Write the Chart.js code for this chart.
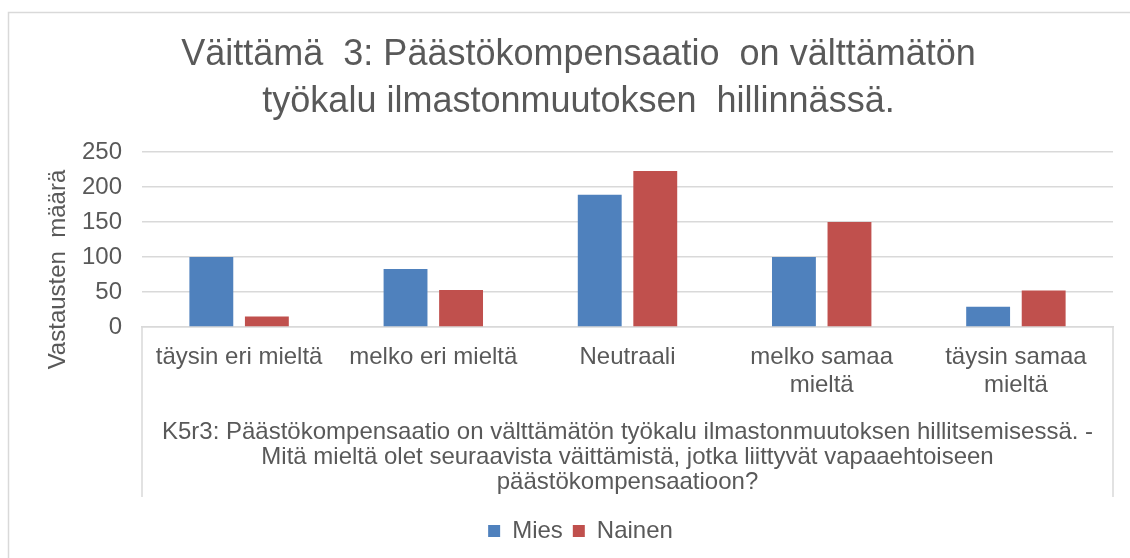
<!DOCTYPE html>
<html>
<head>
<meta charset="utf-8">
<script src="https://cdn.jsdelivr.net/npm/chart.js@4.4.1/dist/chart.umd.min.js"></script>
<style>
    html, body { margin: 0; padding: 0; background: #fff; }
    #wrap { position: relative; width: 1130px; height: 558px; }
</style>
</head>
<body>
<div id="wrap"><canvas id="chart"></canvas></div>
<script>
// ── Data ─────────────────────────────────────────────────────────────────────

const CATEGORIES = [
    "täysin eri mieltä",
    "melko eri mieltä",
    "Neutraali",
    ["melko samaa", "mieltä"],
    ["täysin samaa", "mieltä"],
];

const MIES = [100, 83, 189, 100, 29];
const NAINEN = [15, 53, 223, 150, 52];

const Y_TICKS = [0, 50, 100, 150, 200, 250];

const TITLE = ["Väittämä  3: Päästökompensaatio  on välttämätön", "työkalu ilmastonmuutoksen  hillinnässä."];
const X_TITLE = [
    "K5r3: Päästökompensaatio on välttämätön työkalu ilmastonmuutoksen hillitsemisessä. -",
    "Mitä mieltä olet seuraavista väittämistä, jotka liittyvät vapaaehtoiseen",
    "päästökompensaatioon?",
];
// trailing spaces push the rotated label a bit below the plot centre, as in Excel
const Y_TITLE = "Vastausten  määrä         ";

// ── Styling ──────────────────────────────────────────────────────────────────

const TEXT = "#595959";
const GRID = "#D9D9D9";
const FONT = "'Liberation Sans', Arial, sans-serif";

// outer frame and the box round the category labels
const framePlugin = {
    id: "frame",
    afterLayout(chart) {
        // Excel centres title and legend on the whole frame, not on the plot
        chart.titleBlock.left += 22;
        chart.titleBlock.right += 22;
        chart.legend.left += 24;
        chart.legend.right += 24;
    },
    beforeDraw(chart) {
        const { ctx, chartArea } = chart;
        ctx.save();
        ctx.strokeStyle = GRID;
        ctx.lineWidth = 1.5;
        ctx.strokeRect(8.5, 12.5, chart.width + 20, chart.height + 20);
        const bottom = chartArea.bottom + 170;
        ctx.beginPath();
        ctx.moveTo(chartArea.left, chartArea.bottom);
        ctx.lineTo(chartArea.left, bottom);
        ctx.moveTo(chartArea.right, chartArea.bottom);
        ctx.lineTo(chartArea.right, bottom);
        ctx.stroke();
        ctx.restore();
    },
};

new Chart(document.getElementById("chart"), {
    type: "bar",
    data: {
        labels: CATEGORIES,
        datasets: [
            { label: "Mies", data: MIES, backgroundColor: "#4F81BD" },
            { label: "Nainen", data: NAINEN, backgroundColor: "#C0504D" },
        ],
    },
    options: {
        responsive: true,
        maintainAspectRatio: false,
        animation: false,
        categoryPercentage: 0.572,
        barPercentage: 0.79,
        layout: { padding: { top: 0, bottom: 5, left: 0, right: 17 } },
        scales: {
            x: {
                grid: { display: false },
                border: { display: true, color: GRID, width: 1.5 },
                ticks: {
                    color: TEXT,
                    padding: 8,
                    maxRotation: 0,
                    autoSkip: false,
                    font: { family: FONT, size: 24, lineHeight: 1.167 },
                },
                title: {
                    display: true,
                    text: X_TITLE,
                    color: TEXT,
                    padding: { top: 0, bottom: 13.5 },
                    font: { family: FONT, size: 24, lineHeight: 1.06 },
                },
                afterFit(scale) { scale.height = 182; },
            },
            y: {
                min: Y_TICKS[0],
                max: Y_TICKS[Y_TICKS.length - 1],
                grid: { color: GRID, lineWidth: 1.5, drawTicks: false },
                border: { display: false },
                ticks: {
                    stepSize: Y_TICKS[1] - Y_TICKS[0],
                    color: TEXT,
                    padding: 20,
                    font: { family: FONT, size: 24 },
                },
                title: {
                    display: true,
                    text: Y_TITLE,
                    color: TEXT,
                    padding: { top: 43.6, bottom: 0 },
                    font: { family: FONT, size: 24, lineHeight: 1.2 },
                },
                afterFit(scale) { scale.width = 142; },
            },
        },
        plugins: {
            title: {
                display: true,
                text: TITLE,
                color: TEXT,
                padding: { top: 31.5, bottom: 26.5 },
                font: { family: FONT, size: 36, weight: "normal", lineHeight: 1.306 },
            },
            legend: {
                position: "bottom",
                labels: {
                    color: TEXT,
                    boxWidth: 12,
                    boxHeight: 12,
                    padding: 10,
                    font: { family: FONT, size: 24 },
                },
            },
            tooltip: { enabled: false },
        },
    },
    plugins: [framePlugin],
});
</script>
</body>
</html>
